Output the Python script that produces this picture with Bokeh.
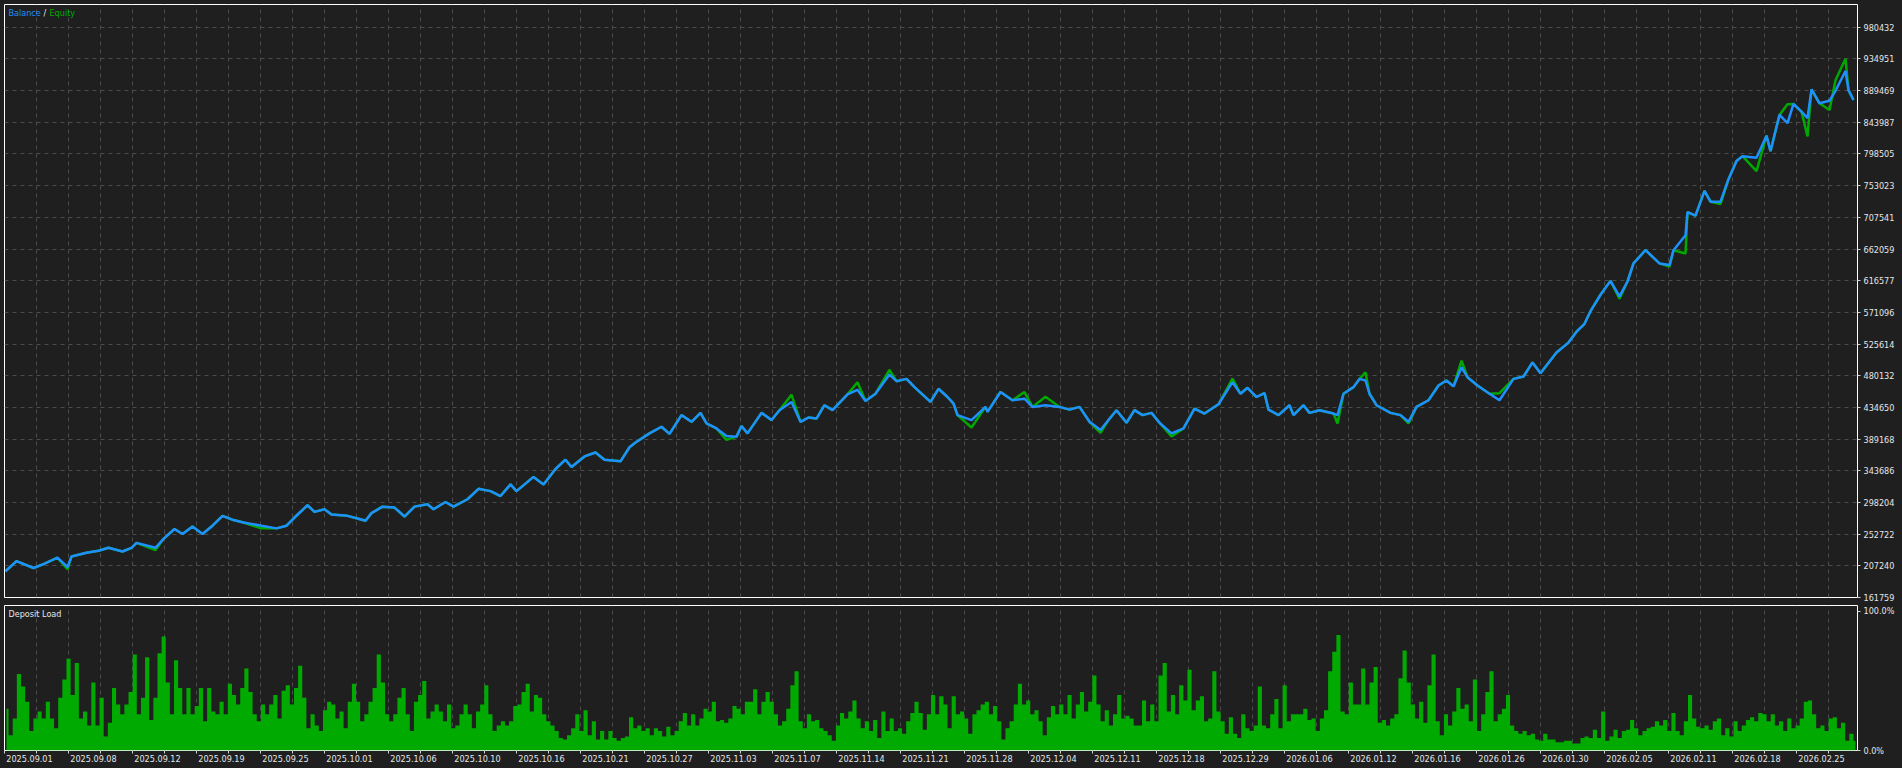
import numpy as np
from bokeh.plotting import figure
from bokeh.layouts import column
from bokeh.models import Range1d, FixedTicker, Label, Grid, GlobalInlineStyleSheet
from bokeh.embed import file_html
from bokeh.resources import INLINE

BG = "#1f1f1f"
GRID = "#4c4c4c"
TXT = "#e6e6e6"
FONT = "DejaVu Sans Condensed, Liberation Sans Narrow, sans-serif"
FS = "9px"
BLUE = "#1e90ff"
GREEN = "#00a800"
LOADC = "#00aa00"

# ---------------- data ----------------
trade = [1, 12, 29, 39, 53, 63, 67, 82, 94, 104,
         118, 127, 132, 151, 159, 170, 178, 188, 198, 208,
         218, 229, 239, 257, 272, 282, 290, 303, 310, 320,
         327, 343, 353, 361, 367, 378, 390, 400, 410, 423,
         429, 441, 449, 463, 474, 486, 496, 506, 512, 529,
         539, 551, 561, 567, 580, 591, 600, 616, 625, 631,
         645, 657, 665, 677, 687, 696, 702, 712, 722, 732,
         737, 743, 757, 767, 775, 787, 796, 804, 812, 820,
         828, 843, 853, 861, 871, 885, 892, 902, 910, 926,
         934, 943, 949, 953, 967, 981, 983, 996, 1008, 1020,
         1028, 1041, 1055, 1065, 1075, 1085, 1096, 1104, 1112, 1122,
         1130, 1138, 1147, 1155, 1167, 1179, 1190, 1200, 1214, 1228,
         1236, 1243, 1252, 1260, 1264, 1274, 1285, 1289, 1299, 1305,
         1315, 1329, 1333, 1339, 1349, 1355, 1361, 1365, 1372, 1386,
         1396, 1404, 1412, 1424, 1434, 1442, 1449, 1457, 1463, 1473,
         1485, 1495, 1509, 1519, 1528, 1536, 1552, 1564, 1572, 1580,
         1586, 1596, 1606, 1615, 1623, 1629, 1641, 1655, 1665, 1669,
         1681, 1683, 1691, 1700, 1706, 1716, 1724, 1732, 1738, 1752,
         1762, 1766, 1775, 1783, 1789, 1797, 1803, 1807, 1815, 1825,
         1831, 1841, 1844, 1849]

balance = [199400, 214100, 204100, 209800, 218900, 205500, 220700, 226000, 228800, 233100,
           227800, 233100, 240200, 233100, 245900, 260100, 253000, 263800, 253000, 264800,
           279000, 272900, 269500, 264800, 261000, 264800, 276600, 294200, 284700, 288500,
           280900, 279000, 275200, 271900, 282900, 292200, 290800, 278000, 292200, 295600,
           288500, 298900, 292200, 302800, 317800, 314500, 307400, 324100, 314500, 334900,
           324100, 346200, 359600, 349100, 364300, 370000, 359600, 357200, 377500, 384200,
           397400, 406900, 396600, 423600, 414000, 426800, 411600, 404500, 393700, 392700,
           407900, 397400, 426800, 416500, 430700, 442500, 414000, 420200, 418700, 437800,
           430700, 453400, 459900, 443900, 454300, 481800, 472300, 475600, 463800, 442500,
           461400, 449600, 440100, 423600, 416500, 435400, 428300, 456700, 444900, 447200,
           435400, 437800, 435400, 431500, 435400, 414000, 402200, 416500, 430700, 412600,
           430700, 423600, 426800, 412600, 397400, 404500, 432900, 425800, 439200, 470900,
           454300, 462800, 449600, 455300, 431500, 423600, 437800, 423600, 437800, 426800,
           430700, 425800, 423600, 454300, 463800, 475600, 473300, 454300, 437800, 426800,
           423600, 414000, 435400, 444900, 466200, 473300, 464800, 492200, 478000, 466200,
           454300, 444900, 475600, 479000, 499300, 483700, 513500, 527700, 543400, 554700,
           572800, 596400, 616300, 594100, 615400, 641400, 660400, 641400, 639000, 660400,
           681700, 714900, 710100, 745600, 730000, 730000, 762300, 788300, 795400, 793100,
           824800, 802500, 854600, 842800, 870300, 859300, 850000, 891200, 871300, 875000,
           889200, 917600, 890200, 876000]

equity = [199400, 214100, 204100, 209800, 218900, 202300, 220700, 226000, 228800, 233100,
          227800, 233100, 240200, 230000, 245900, 260100, 253000, 263800, 253000, 264800,
          279000, 272900, 269500, 261000, 261000, 264800, 276600, 294200, 284700, 288500,
          280900, 279000, 275200, 271900, 282900, 292200, 290800, 278000, 292200, 295600,
          288500, 298900, 292200, 302800, 317800, 314500, 307400, 324100, 314500, 334900,
          324100, 346200, 359600, 349100, 364300, 370000, 359600, 357200, 377500, 384200,
          397400, 406900, 396600, 423600, 414000, 426800, 411600, 404500, 388000, 392700,
          407900, 397400, 426800, 416500, 430700, 452900, 414000, 420200, 418700, 437800,
          430700, 453400, 470900, 443900, 454300, 488400, 472300, 475600, 463800, 442500,
          461400, 449600, 440100, 423600, 405900, 435400, 428300, 456700, 444900, 456700,
          435400, 450000, 435400, 431500, 435400, 414000, 398000, 416500, 430700, 412600,
          430700, 423600, 426800, 412600, 393000, 404500, 432900, 425800, 439200, 476000,
          454300, 462800, 449600, 455300, 431500, 423600, 437800, 423600, 437800, 426800,
          430700, 425800, 411600, 454300, 463800, 475600, 485100, 454300, 437800, 426800,
          423600, 411600, 435400, 444900, 466200, 473300, 464800, 501700, 478000, 466200,
          454300, 455000, 475600, 479000, 499300, 483700, 513500, 527700, 543400, 554700,
          572800, 596400, 616300, 590700, 615400, 641400, 660400, 641400, 636700, 660400,
          655700, 714900, 710100, 745600, 730000, 726700, 762300, 788300, 795400, 774000,
          824800, 802500, 854600, 870000, 870300, 859300, 823800, 891200, 871300, 861700,
          904400, 935200, 890200, 876000]

y_ticks = [161759, 207240, 252722, 298204, 343686, 389168, 434650, 480132, 525614, 571096,
           616577, 662059, 707541, 753023, 798505, 843987, 889469, 934951, 980432]

date_labels = ["2025.09.01", "2025.09.08", "2025.09.12", "2025.09.19", "2025.09.25",
               "2025.10.01", "2025.10.06", "2025.10.10", "2025.10.16", "2025.10.21",
               "2025.10.27", "2025.11.03", "2025.11.07", "2025.11.14", "2025.11.21",
               "2025.11.28", "2025.12.04", "2025.12.11", "2025.12.18", "2025.12.29",
               "2026.01.06", "2026.01.12", "2026.01.16", "2026.01.26", "2026.01.30",
               "2026.02.05", "2026.02.11", "2026.02.18", "2026.02.25"]

# deposit load, percent
load = [30, 11, 23, 55, 46, 35, 14, 23, 28, 23,
        35, 23, 16, 38, 51, 66, 40, 63, 23, 28,
        18, 49, 18, 38, 10, 20, 45, 33, 26, 33,
        42, 69, 26, 38, 67, 22, 38, 70, 82, 49,
        26, 65, 45, 26, 45, 26, 32, 45, 21, 45,
        28, 26, 35, 26, 48, 40, 33, 45, 59, 42,
        26, 21, 33, 26, 33, 40, 23, 43, 47, 33,
        45, 61, 38, 16, 26, 18, 14, 29, 35, 33,
        23, 28, 16, 35, 48, 35, 21, 26, 35, 45,
        69, 49, 26, 21, 26, 38, 45, 26, 14, 35,
        40, 50, 23, 28, 33, 28, 21, 33, 16, 18,
        26, 33, 26, 16, 28, 33, 47, 26, 14, 18,
        21, 18, 21, 32, 33, 42, 48, 28, 40, 38,
        26, 21, 18, 14, 9, 8, 11, 16, 26, 14,
        29, 11, 21, 8, 14, 8, 14, 9, 7, 9,
        10, 24, 16, 18, 14, 16, 11, 16, 14, 10,
        17, 11, 14, 21, 27, 18, 26, 18, 23, 30,
        28, 35, 21, 22, 20, 23, 32, 30, 26, 35,
        35, 44, 26, 35, 42, 35, 26, 18, 21, 30,
        47, 57, 21, 16, 26, 21, 22, 16, 14, 11,
        7, 18, 27, 23, 28, 36, 23, 16, 21, 14,
        22, 9, 28, 14, 23, 14, 16, 12, 21, 27,
        35,
        27, 15, 26, 40, 26, 39, 33, 16, 39, 26,
        28, 23, 12, 26, 29, 33, 35, 26, 32, 21,
        8, 16, 21, 33, 48, 33, 36, 26, 29, 21,
        11, 24, 32, 26, 33, 26, 40, 23, 33, 42,
        28, 35, 54, 33, 21, 29, 18, 26, 40, 23,
        25, 23, 18, 18, 36, 21, 33, 21, 54, 63,
        28, 40, 26, 47, 36, 58, 29, 36, 39, 21,
        23, 57, 28, 21, 12, 24, 12, 9, 26, 16,
        14, 18, 46, 18, 16, 26, 37, 16, 47, 21,
        26, 26, 26, 30, 22, 23, 14, 23, 29, 57,
        71, 83, 28, 26, 49, 33, 33, 59, 33, 49,
        60, 20, 22, 18, 23, 26, 52, 72, 49, 33,
        23, 35, 20, 47, 69, 21, 11, 26, 18, 28,
        45, 30, 33, 21, 51, 14, 26, 42, 57, 21,
        26, 30, 40, 18, 14, 12, 14, 11, 12, 8,
        7, 12, 8, 8, 6, 6, 7, 7, 5, 5,
        9, 10, 9, 15, 9, 28, 7, 10, 15, 9,
        14, 15, 22, 16, 11, 14, 16, 17, 21, 18,
        22, 14, 27, 14, 11, 21, 40, 23, 17, 16,
        18, 15, 21, 23, 11, 16, 10, 21, 14, 18,
        22, 24, 21, 27, 26, 21, 26, 18, 21, 14,
        23, 16, 18, 23, 35, 36, 26, 16, 18, 14,
        23, 24, 16, 20, 7, 12, 7]

# ---------------- layout constants ----------------
X_MAX = 1853
W = 1900
TOP_FRAME_H = 593
common = dict(output_backend="svg", toolbar_location=None, width=W,
              background_fill_color=BG, border_fill_color=BG,
              outline_line_color="white", outline_line_width=1,
              min_border_left=4, min_border_right=43)


def style_axis(ax):
    ax.axis_line_color = None
    ax.major_tick_out = 3
    ax.major_tick_in = 0
    ax.minor_tick_out = 0
    ax.minor_tick_in = 0
    ax.major_tick_line_color = "#d0d0d0"
    ax.major_label_text_color = TXT
    ax.major_label_text_font = FONT
    ax.major_label_text_font_size = FS
    ax.major_label_standoff = 3


grid_x = list(range(0, X_MAX + 1, 32))

# ---------------- top panel ----------------
p1 = figure(height=4 + TOP_FRAME_H + 7, x_range=Range1d(0, X_MAX),
            y_range=Range1d(161759, 1013100),
            x_axis_location=None, y_axis_location="right",
            min_border_top=4, min_border_bottom=7, **common)
p1.grid.visible = False
p1.add_layout(Grid(dimension=0, ticker=FixedTicker(ticks=grid_x), grid_line_color=GRID,
                   grid_line_dash="4 4", grid_line_width=1))
p1.add_layout(Grid(dimension=1, ticker=FixedTicker(ticks=y_ticks[1:]), grid_line_color=GRID,
                   grid_line_dash="4 4", grid_line_width=1))
p1.yaxis.ticker = FixedTicker(ticks=y_ticks)
p1.yaxis.major_label_overrides = {t: str(t) for t in y_ticks}
style_axis(p1.yaxis[0])

p1.line(trade, equity, line_color=GREEN, line_width=2.5)
p1.line(trade, balance, line_color=BLUE, line_width=2.5)

LY = TOP_FRAME_H - 8
p1.add_layout(Label(x=4, y=LY, x_units="screen", y_units="screen", text="Balance",
                    text_color=BLUE, text_font=FONT, text_font_size=FS, text_baseline="middle"))
p1.add_layout(Label(x=39, y=LY, x_units="screen", y_units="screen", text="/",
                    text_color=TXT, text_font=FONT, text_font_size=FS, text_baseline="middle"))
p1.add_layout(Label(x=45, y=LY, x_units="screen", y_units="screen", text="Equity",
                    text_color=GREEN, text_font=FONT, text_font_size=FS, text_baseline="middle"))

# ---------------- bottom panel ----------------
BOT_FRAME_H = 145
p2 = figure(height=1 + BOT_FRAME_H + 16, x_range=p1.x_range, y_range=Range1d(0, 104.3),
            x_axis_location="below", y_axis_location="right",
            min_border_top=1, min_border_bottom=16, **common)
p2.grid.visible = False
p2.add_layout(Grid(dimension=0, ticker=FixedTicker(ticks=grid_x), grid_line_color=GRID,
                   grid_line_dash="4 4", grid_line_width=1))

label_pos = [64 * k + 25 for k in range(len(date_labels))]
p2.xaxis.ticker = FixedTicker(ticks=label_pos, minor_ticks=grid_x)
p2.xaxis.major_label_overrides = {pos: lab for pos, lab in zip(label_pos, date_labels)}
xa = p2.xaxis[0]
style_axis(xa)
xa.major_tick_out = 0
xa.minor_tick_out = 3
xa.minor_tick_line_color = "#d0d0d0"
xa.major_label_standoff = 1

p2.yaxis.ticker = FixedTicker(ticks=[0, 100])
p2.yaxis.major_label_overrides = {0: "0.0%", 100: "100.0%"}
style_axis(p2.yaxis[0])

lx = np.linspace(2, X_MAX - 2, len(load))
p2.varea_step(x=lx, y1=0, y2=load, step_mode="center", fill_color=LOADC)

p2.add_layout(Label(x=4, y=BOT_FRAME_H - 8, x_units="screen", y_units="screen",
                    text="Deposit Load", text_color=TXT, text_font=FONT,
                    text_font_size=FS, text_baseline="middle"))

layout = column(p1, p2, spacing=0,
                stylesheets=[GlobalInlineStyleSheet(css="body{background-color:#1f1f1f;}")])

open("out.html", "w").write(file_html(layout, INLINE))
